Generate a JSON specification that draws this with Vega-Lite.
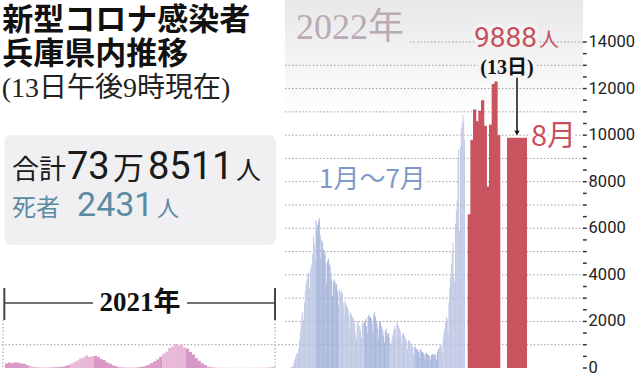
{
"$schema": "https://vega.github.io/schema/vega-lite/v6.json",
"width": 640, "height": 378,
"autosize": {"type": "none"},
"padding": 0,
"background": "#ffffff",
"config": {"view": {"stroke": null}, "text": {"font": "Noto Sans CJK JP"}},
"datasets": {
"one": [{"k": 1}],
"ticks": [{"v":0},{"v":500},{"v":1000},{"v":1500},{"v":2000},{"v":2500},{"v":3000},{"v":3500},{"v":4000},{"v":4500},{"v":5000},{"v":5500},{"v":6000},{"v":6500},{"v":7000},{"v":7500},{"v":8000},{"v":8500},{"v":9000},{"v":9500},{"v":10000},{"v":10500},{"v":11000},{"v":11500},{"v":12000},{"v":12500},{"v":13000},{"v":13500},{"v":14000}],
"labels": [{"v":0},{"v":2000},{"v":4000},{"v":6000},{"v":8000},{"v":10000},{"v":12000},{"v":14000}],
"grid": [{"v":2000},{"v":3000},{"v":4000},{"v":5000},{"v":6000},{"v":7000},{"v":8000},{"v":9000},{"v":10000},{"v":11000},{"v":12000},{"v":13000}],
"y2021": [
{"d":2,"n":190,"ym":"2021-01"},{"d":6,"n":230,"ym":"2021-01"},{"d":10,"n":210,"ym":"2021-01"},{"d":14,"n":245,"ym":"2021-01"},{"d":18,"n":225,"ym":"2021-01"},{"d":22,"n":200,"ym":"2021-01"},{"d":26,"n":180,"ym":"2021-01"},{"d":30,"n":120,"ym":"2021-01"},
{"d":34,"n":85,"ym":"2021-02"},{"d":38,"n":60,"ym":"2021-02"},{"d":42,"n":40,"ym":"2021-02"},{"d":46,"n":30,"ym":"2021-02"},{"d":50,"n":28,"ym":"2021-02"},{"d":54,"n":20,"ym":"2021-02"},{"d":58,"n":22,"ym":"2021-02"},
{"d":62,"n":25,"ym":"2021-03"},{"d":66,"n":30,"ym":"2021-03"},{"d":70,"n":35,"ym":"2021-03"},{"d":74,"n":45,"ym":"2021-03"},{"d":78,"n":60,"ym":"2021-03"},{"d":82,"n":85,"ym":"2021-03"},{"d":86,"n":125,"ym":"2021-03"},
{"d":90,"n":190,"ym":"2021-04"},{"d":94,"n":260,"ym":"2021-04"},{"d":98,"n":320,"ym":"2021-04"},{"d":102,"n":410,"ym":"2021-04"},{"d":106,"n":450,"ym":"2021-04"},{"d":110,"n":540,"ym":"2021-04"},{"d":114,"n":480,"ym":"2021-04"},{"d":118,"n":500,"ym":"2021-04"},
{"d":122,"n":520,"ym":"2021-05"},{"d":126,"n":470,"ym":"2021-05"},{"d":130,"n":380,"ym":"2021-05"},{"d":134,"n":330,"ym":"2021-05"},{"d":138,"n":240,"ym":"2021-05"},{"d":142,"n":180,"ym":"2021-05"},{"d":146,"n":110,"ym":"2021-05"},{"d":150,"n":75,"ym":"2021-05"},
{"d":154,"n":45,"ym":"2021-06"},{"d":158,"n":35,"ym":"2021-06"},{"d":162,"n":25,"ym":"2021-06"},{"d":166,"n":20,"ym":"2021-06"},{"d":170,"n":22,"ym":"2021-06"},{"d":174,"n":30,"ym":"2021-06"},{"d":178,"n":35,"ym":"2021-06"},
{"d":182,"n":45,"ym":"2021-07"},{"d":186,"n":60,"ym":"2021-07"},{"d":190,"n":95,"ym":"2021-07"},{"d":194,"n":140,"ym":"2021-07"},{"d":198,"n":210,"ym":"2021-07"},{"d":202,"n":290,"ym":"2021-07"},{"d":206,"n":370,"ym":"2021-07"},{"d":210,"n":480,"ym":"2021-07"},
{"d":214,"n":620,"ym":"2021-08"},{"d":218,"n":700,"ym":"2021-08"},{"d":222,"n":860,"ym":"2021-08"},{"d":226,"n":930,"ym":"2021-08"},{"d":230,"n":1020,"ym":"2021-08"},{"d":234,"n":980,"ym":"2021-08"},{"d":238,"n":1000,"ym":"2021-08"},{"d":242,"n":880,"ym":"2021-08"},
{"d":246,"n":830,"ym":"2021-09"},{"d":250,"n":690,"ym":"2021-09"},{"d":254,"n":580,"ym":"2021-09"},{"d":258,"n":420,"ym":"2021-09"},{"d":262,"n":310,"ym":"2021-09"},{"d":266,"n":200,"ym":"2021-09"},{"d":270,"n":130,"ym":"2021-09"},
{"d":274,"n":75,"ym":"2021-10"},{"d":278,"n":45,"ym":"2021-10"},{"d":282,"n":28,"ym":"2021-10"},{"d":286,"n":18,"ym":"2021-10"},{"d":290,"n":12,"ym":"2021-10"},{"d":294,"n":10,"ym":"2021-10"},{"d":298,"n":9,"ym":"2021-10"},{"d":302,"n":8,"ym":"2021-10"},
{"d":306,"n":6,"ym":"2021-11"},{"d":310,"n":6,"ym":"2021-11"},{"d":314,"n":5,"ym":"2021-11"},{"d":318,"n":5,"ym":"2021-11"},{"d":322,"n":5,"ym":"2021-11"},{"d":326,"n":6,"ym":"2021-11"},{"d":330,"n":6,"ym":"2021-11"},
{"d":334,"n":8,"ym":"2021-12"},{"d":338,"n":9,"ym":"2021-12"},{"d":342,"n":10,"ym":"2021-12"},{"d":346,"n":13,"ym":"2021-12"},{"d":350,"n":17,"ym":"2021-12"},{"d":354,"n":22,"ym":"2021-12"},{"d":358,"n":32,"ym":"2021-12"},{"d":362,"n":50,"ym":"2021-12"}
],
"y2022": [
{"d":365,"n":30,"ym":"2022-01"},{"d":366,"n":35,"ym":"2022-01"},{"d":367,"n":40,"ym":"2022-01"},{"d":368,"n":90,"ym":"2022-01"},{"d":369,"n":170,"ym":"2022-01"},{"d":370,"n":330,"ym":"2022-01"},{"d":371,"n":450,"ym":"2022-01"},{"d":372,"n":560,"ym":"2022-01"},{"d":373,"n":640,"ym":"2022-01"},{"d":374,"n":600,"ym":"2022-01"},{"d":375,"n":830,"ym":"2022-01"},{"d":376,"n":1200,"ym":"2022-01"},{"d":377,"n":1600,"ym":"2022-01"},{"d":378,"n":2000,"ym":"2022-01"},{"d":379,"n":2300,"ym":"2022-01"},{"d":380,"n":2400,"ym":"2022-01"},{"d":381,"n":2050,"ym":"2022-01"},{"d":382,"n":2800,"ym":"2022-01"},{"d":383,"n":3300,"ym":"2022-01"},{"d":384,"n":3600,"ym":"2022-01"},{"d":385,"n":3800,"ym":"2022-01"},{"d":386,"n":4000,"ym":"2022-01"},{"d":387,"n":4100,"ym":"2022-01"},{"d":388,"n":3400,"ym":"2022-01"},{"d":389,"n":4200,"ym":"2022-01"},{"d":390,"n":4350,"ym":"2022-01"},{"d":391,"n":4500,"ym":"2022-01"},{"d":392,"n":4900,"ym":"2022-01"},{"d":393,"n":5700,"ym":"2022-01"},{"d":394,"n":5300,"ym":"2022-01"},{"d":395,"n":4600,"ym":"2022-01"},
{"d":396,"n":6350,"ym":"2022-02"},{"d":397,"n":5900,"ym":"2022-02"},{"d":398,"n":6150,"ym":"2022-02"},{"d":399,"n":6300,"ym":"2022-02"},{"d":400,"n":6450,"ym":"2022-02"},{"d":401,"n":5700,"ym":"2022-02"},{"d":402,"n":4700,"ym":"2022-02"},{"d":403,"n":5500,"ym":"2022-02"},{"d":404,"n":5400,"ym":"2022-02"},{"d":405,"n":5100,"ym":"2022-02"},{"d":406,"n":4900,"ym":"2022-02"},{"d":407,"n":5000,"ym":"2022-02"},{"d":408,"n":4500,"ym":"2022-02"},{"d":409,"n":3600,"ym":"2022-02"},{"d":410,"n":4600,"ym":"2022-02"},{"d":411,"n":4700,"ym":"2022-02"},{"d":412,"n":4500,"ym":"2022-02"},{"d":413,"n":4400,"ym":"2022-02"},{"d":414,"n":4100,"ym":"2022-02"},{"d":415,"n":3800,"ym":"2022-02"},{"d":416,"n":3100,"ym":"2022-02"},{"d":417,"n":3700,"ym":"2022-02"},{"d":418,"n":3800,"ym":"2022-02"},{"d":419,"n":3700,"ym":"2022-02"},{"d":420,"n":3600,"ym":"2022-02"},{"d":421,"n":3600,"ym":"2022-02"},{"d":422,"n":3300,"ym":"2022-02"},{"d":423,"n":2700,"ym":"2022-02"},
{"d":424,"n":3400,"ym":"2022-03"},{"d":425,"n":3300,"ym":"2022-03"},{"d":426,"n":3200,"ym":"2022-03"},{"d":427,"n":3300,"ym":"2022-03"},{"d":428,"n":3200,"ym":"2022-03"},{"d":429,"n":2800,"ym":"2022-03"},{"d":430,"n":2300,"ym":"2022-03"},{"d":431,"n":2900,"ym":"2022-03"},{"d":432,"n":2800,"ym":"2022-03"},{"d":433,"n":2700,"ym":"2022-03"},{"d":434,"n":2600,"ym":"2022-03"},{"d":435,"n":2500,"ym":"2022-03"},{"d":436,"n":2300,"ym":"2022-03"},{"d":437,"n":1700,"ym":"2022-03"},{"d":438,"n":2400,"ym":"2022-03"},{"d":439,"n":2300,"ym":"2022-03"},{"d":440,"n":2200,"ym":"2022-03"},{"d":441,"n":2100,"ym":"2022-03"},{"d":442,"n":2100,"ym":"2022-03"},{"d":443,"n":1900,"ym":"2022-03"},{"d":444,"n":1500,"ym":"2022-03"},{"d":445,"n":1200,"ym":"2022-03"},{"d":446,"n":2000,"ym":"2022-03"},{"d":447,"n":2000,"ym":"2022-03"},{"d":448,"n":1800,"ym":"2022-03"},{"d":449,"n":1800,"ym":"2022-03"},{"d":450,"n":1600,"ym":"2022-03"},{"d":451,"n":1300,"ym":"2022-03"},{"d":452,"n":1900,"ym":"2022-03"},{"d":453,"n":2000,"ym":"2022-03"},{"d":454,"n":1900,"ym":"2022-03"},
{"d":455,"n":2000,"ym":"2022-04"},{"d":456,"n":2100,"ym":"2022-04"},{"d":457,"n":1800,"ym":"2022-04"},{"d":458,"n":1500,"ym":"2022-04"},{"d":459,"n":2200,"ym":"2022-04"},{"d":460,"n":2300,"ym":"2022-04"},{"d":461,"n":2200,"ym":"2022-04"},{"d":462,"n":2200,"ym":"2022-04"},{"d":463,"n":2100,"ym":"2022-04"},{"d":464,"n":1900,"ym":"2022-04"},{"d":465,"n":1500,"ym":"2022-04"},{"d":466,"n":2300,"ym":"2022-04"},{"d":467,"n":2400,"ym":"2022-04"},{"d":468,"n":2200,"ym":"2022-04"},{"d":469,"n":2000,"ym":"2022-04"},{"d":470,"n":1900,"ym":"2022-04"},{"d":471,"n":1700,"ym":"2022-04"},{"d":472,"n":1300,"ym":"2022-04"},{"d":473,"n":2000,"ym":"2022-04"},{"d":474,"n":2000,"ym":"2022-04"},{"d":475,"n":1800,"ym":"2022-04"},{"d":476,"n":1700,"ym":"2022-04"},{"d":477,"n":1600,"ym":"2022-04"},{"d":478,"n":1400,"ym":"2022-04"},{"d":479,"n":1100,"ym":"2022-04"},{"d":480,"n":1600,"ym":"2022-04"},{"d":481,"n":1700,"ym":"2022-04"},{"d":482,"n":1500,"ym":"2022-04"},{"d":483,"n":1400,"ym":"2022-04"},{"d":484,"n":1500,"ym":"2022-04"},
{"d":485,"n":1300,"ym":"2022-05"},{"d":486,"n":1000,"ym":"2022-05"},{"d":487,"n":1100,"ym":"2022-05"},{"d":488,"n":1200,"ym":"2022-05"},{"d":489,"n":1400,"ym":"2022-05"},{"d":490,"n":1600,"ym":"2022-05"},{"d":491,"n":1800,"ym":"2022-05"},{"d":492,"n":1700,"ym":"2022-05"},{"d":493,"n":1300,"ym":"2022-05"},{"d":494,"n":2000,"ym":"2022-05"},{"d":495,"n":1900,"ym":"2022-05"},{"d":496,"n":1800,"ym":"2022-05"},{"d":497,"n":1700,"ym":"2022-05"},{"d":498,"n":1600,"ym":"2022-05"},{"d":499,"n":1400,"ym":"2022-05"},{"d":500,"n":1000,"ym":"2022-05"},{"d":501,"n":1500,"ym":"2022-05"},{"d":502,"n":1500,"ym":"2022-05"},{"d":503,"n":1400,"ym":"2022-05"},{"d":504,"n":1300,"ym":"2022-05"},{"d":505,"n":1250,"ym":"2022-05"},{"d":506,"n":1150,"ym":"2022-05"},{"d":507,"n":800,"ym":"2022-05"},{"d":508,"n":1200,"ym":"2022-05"},{"d":509,"n":1200,"ym":"2022-05"},{"d":510,"n":1100,"ym":"2022-05"},{"d":511,"n":1050,"ym":"2022-05"},{"d":512,"n":1000,"ym":"2022-05"},{"d":513,"n":900,"ym":"2022-05"},{"d":514,"n":600,"ym":"2022-05"},{"d":515,"n":950,"ym":"2022-05"},
{"d":516,"n":900,"ym":"2022-06"},{"d":517,"n":850,"ym":"2022-06"},{"d":518,"n":800,"ym":"2022-06"},{"d":519,"n":780,"ym":"2022-06"},{"d":520,"n":700,"ym":"2022-06"},{"d":521,"n":450,"ym":"2022-06"},{"d":522,"n":800,"ym":"2022-06"},{"d":523,"n":780,"ym":"2022-06"},{"d":524,"n":720,"ym":"2022-06"},{"d":525,"n":680,"ym":"2022-06"},{"d":526,"n":650,"ym":"2022-06"},{"d":527,"n":580,"ym":"2022-06"},{"d":528,"n":380,"ym":"2022-06"},{"d":529,"n":620,"ym":"2022-06"},{"d":530,"n":650,"ym":"2022-06"},{"d":531,"n":600,"ym":"2022-06"},{"d":532,"n":560,"ym":"2022-06"},{"d":533,"n":540,"ym":"2022-06"},{"d":534,"n":500,"ym":"2022-06"},{"d":535,"n":320,"ym":"2022-06"},{"d":536,"n":560,"ym":"2022-06"},{"d":537,"n":600,"ym":"2022-06"},{"d":538,"n":560,"ym":"2022-06"},{"d":539,"n":580,"ym":"2022-06"},{"d":540,"n":600,"ym":"2022-06"},{"d":541,"n":560,"ym":"2022-06"},{"d":542,"n":370,"ym":"2022-06"},{"d":543,"n":680,"ym":"2022-06"},{"d":544,"n":800,"ym":"2022-06"},{"d":545,"n":850,"ym":"2022-06"},
{"d":546,"n":900,"ym":"2022-07"},{"d":547,"n":1000,"ym":"2022-07"},{"d":548,"n":950,"ym":"2022-07"},{"d":549,"n":650,"ym":"2022-07"},{"d":550,"n":1300,"ym":"2022-07"},{"d":551,"n":1500,"ym":"2022-07"},{"d":552,"n":1700,"ym":"2022-07"},{"d":553,"n":2000,"ym":"2022-07"},{"d":554,"n":2200,"ym":"2022-07"},{"d":555,"n":2100,"ym":"2022-07"},{"d":556,"n":1500,"ym":"2022-07"},{"d":557,"n":2800,"ym":"2022-07"},{"d":558,"n":3400,"ym":"2022-07"},{"d":559,"n":3900,"ym":"2022-07"},{"d":560,"n":4500,"ym":"2022-07"},{"d":561,"n":5000,"ym":"2022-07"},{"d":562,"n":5400,"ym":"2022-07"},{"d":563,"n":4000,"ym":"2022-07"},{"d":564,"n":3700,"ym":"2022-07"},{"d":565,"n":6200,"ym":"2022-07"},{"d":566,"n":6800,"ym":"2022-07"},{"d":567,"n":7200,"ym":"2022-07"},{"d":568,"n":9000,"ym":"2022-07"},{"d":569,"n":9400,"ym":"2022-07"},{"d":570,"n":5900,"ym":"2022-07"},{"d":571,"n":9500,"ym":"2022-07"},{"d":572,"n":10300,"ym":"2022-07"},{"d":573,"n":10500,"ym":"2022-07"},{"d":574,"n":10900,"ym":"2022-07"},{"d":575,"n":10600,"ym":"2022-07"},{"d":576,"n":9800,"ym":"2022-07"}
],
"aug": [
{"d":577,"n":6600,"ym":"2022-08"},{"d":578,"n":9800,"ym":"2022-08"},{"d":579,"n":11100,"ym":"2022-08"},{"d":580,"n":10600,"ym":"2022-08"},{"d":581,"n":11050,"ym":"2022-08"},{"d":582,"n":11500,"ym":"2022-08"},{"d":583,"n":10400,"ym":"2022-08"},{"d":584,"n":7800,"ym":"2022-08"},{"d":585,"n":10450,"ym":"2022-08"},{"d":586,"n":12200,"ym":"2022-08"},{"d":587,"n":12300,"ym":"2022-08"},{"d":588,"n":10000,"ym":"2022-08"}
],
"aug13": [{"d":589,"n":9888,"ym":"2022-08"}]
},
"layer": [
{"data": {"name": "one"},
 "mark": {"type": "rect", "fill": {"gradient": "linear", "x1": 0, "y1": 0, "x2": 0, "y2": 1, "stops": [{"offset": 0, "color": "#e8e7e9"}, {"offset": 1, "color": "#ffffff"}]}},
 "encoding": {
  "x": {"datum": 364.33, "type": "quantitative", "axis": null, "scale": {"type": "linear", "domain": [-10, 0, 364, 364.5, 576.5, 576.51, 588.5, 588.51, 589.49, 592, 600], "range": [-2.42, 5, 275, 290, 465, 468, 500, 507, 527, 583, 640], "nice": false, "zero": false}},
  "x2": {"datum": 592},
  "y": {"datum": 15804, "type": "quantitative", "axis": null, "scale": {"domain": [0, 15804], "range": [368, 0], "nice": false, "zero": true}},
  "y2": {"datum": 10865}}},
{"data": {"name": "one"},
 "mark": {"type": "rect", "fill": "#f0f0f2", "cornerRadius": 7},
 "encoding": {"x": {"datum": -1.35, "axis": null}, "x2": {"datum": 364.03}, "y": {"datum": 10006, "axis": null}, "y2": {"datum": 5282}}},
{"data": {"values": [{"v": 1000}]},
 "mark": {"type": "rule", "color": "#9c9c9c", "strokeWidth": 1, "strokeDash": [1.5, 2]},
 "encoding": {"x": {"datum": -6.74, "axis": null}, "x2": {"datum": 592}, "y": {"field": "v", "type": "quantitative", "axis": null}}},
{"data": {"name": "grid"},
 "mark": {"type": "rule", "color": "#9c9c9c", "strokeWidth": 1, "strokeDash": [1.5, 2]},
 "encoding": {"x": {"datum": 364.33, "axis": null}, "x2": {"datum": 592}, "y": {"field": "v", "type": "quantitative", "axis": null}}},
{"data": {"values": [{"v": 14000}]},
 "mark": {"type": "rule", "color": "#9c9c9c", "strokeWidth": 1, "strokeDash": [1.5, 2]},
 "encoding": {"x": {"datum": 509.9, "axis": null}, "x2": {"datum": 592}, "y": {"field": "v", "type": "quantitative", "axis": null}}},
{"data": {"name": "ticks"},
 "mark": {"type": "rule", "color": "#333333", "strokeWidth": 1.5},
 "encoding": {"x": {"datum": 592, "axis": null}, "x2": {"datum": 592.84}, "y": {"field": "v", "type": "quantitative", "axis": null}}},
{"data": {"name": "labels"},
 "mark": {"type": "text", "align": "left", "baseline": "middle", "font": "Roboto", "fontSize": 16.5, "color": "#222222"},
 "encoding": {"x": {"datum": 593.26, "axis": null}, "y": {"field": "v", "type": "quantitative", "axis": null}, "text": {"field": "v", "type": "quantitative", "format": "d"}}},
{"data": {"name": "one"},
 "mark": {"type": "rule", "color": "#b0b0b0", "strokeWidth": 1.2, "strokeDash": [1.5, 2]},
 "encoding": {"x": {"datum": -4.04, "axis": null}, "y": {"datum": 2061, "axis": null}, "y2": {"datum": 0}}},
{"data": {"name": "one"},
 "mark": {"type": "rule", "color": "#b0b0b0", "strokeWidth": 1.2, "strokeDash": [1.5, 2]},
 "encoding": {"x": {"datum": 364, "axis": null}, "y": {"datum": 2061, "axis": null}, "y2": {"datum": 0}}},
{"data": {"name": "y2021"},
 "mark": {"type": "bar", "orient": "vertical", "width": 3.1},
 "encoding": {
  "x": {"field": "d", "type": "quantitative", "axis": null},
  "y": {"field": "n", "type": "quantitative", "stack": null, "axis": null},
  "color": {"field": "ym", "type": "nominal", "legend": null, "scale": {"domain": ["2021-01","2021-02","2021-03","2021-04","2021-05","2021-06","2021-07","2021-08","2021-09","2021-10","2021-11","2021-12","2022-01","2022-02","2022-03","2022-04","2022-05","2022-06","2022-07","2022-08"], "range": ["#d898c5","#e8b8d7","#d898c5","#e8b8d7","#d898c5","#e8b8d7","#d898c5","#e8b8d7","#d898c5","#e8b8d7","#d898c5","#e8b8d7","#bac4e2","#a0b0d8","#bac4e2","#a0b0d8","#bac4e2","#a0b0d8","#bac4e2","#c9535e"]}}}},
{"data": {"name": "y2022"},
 "mark": {"type": "bar", "orient": "vertical", "width": 0.86},
 "encoding": {
  "x": {"field": "d", "type": "quantitative", "axis": null},
  "y": {"field": "n", "type": "quantitative", "stack": null, "axis": null},
  "color": {"field": "ym", "type": "nominal", "legend": null}}},
{"data": {"name": "aug"},
 "mark": {"type": "bar", "orient": "vertical", "width": 3.3},
 "encoding": {
  "x": {"field": "d", "type": "quantitative", "axis": null},
  "y": {"field": "n", "type": "quantitative", "stack": null, "axis": null},
  "color": {"field": "ym", "type": "nominal", "legend": null}}},
{"data": {"name": "aug13"},
 "mark": {"type": "bar", "orient": "vertical", "width": 20},
 "encoding": {
  "x": {"field": "d", "type": "quantitative", "axis": null},
  "y": {"field": "n", "type": "quantitative", "stack": null, "axis": null},
  "color": {"field": "ym", "type": "nominal", "legend": null}}},
{"data": {"name": "one"}, "mark": {"type": "rule", "color": "#444444", "strokeWidth": 1.5},
 "encoding": {"x": {"datum": 0, "axis": null}, "x2": {"datum": 118.6}, "y": {"datum": 2791, "axis": null}}},
{"data": {"name": "one"}, "mark": {"type": "rule", "color": "#444444", "strokeWidth": 1.5},
 "encoding": {"x": {"datum": 245.4, "axis": null}, "x2": {"datum": 364}, "y": {"datum": 2791, "axis": null}}},
{"data": {"name": "one"}, "mark": {"type": "rule", "color": "#444444", "strokeWidth": 2},
 "encoding": {"x": {"datum": -1.35, "axis": null}, "y": {"datum": 3436, "axis": null}, "y2": {"datum": 2061}}},
{"data": {"name": "one"}, "mark": {"type": "rule", "color": "#444444", "strokeWidth": 2},
 "encoding": {"x": {"datum": 364, "axis": null}, "y": {"datum": 3436, "axis": null}, "y2": {"datum": 2061}}},
{"data": {"name": "one"}, "mark": {"type": "rule", "color": "#111111", "strokeWidth": 1.5},
 "encoding": {"x": {"datum": 589, "axis": null}, "y": {"datum": 12497, "axis": null}, "y2": {"datum": 10135}}},
{"data": {"name": "one"}, "mark": {"type": "point", "shape": "triangle-down", "filled": true, "size": 28, "color": "#111111", "opacity": 1},
 "encoding": {"x": {"datum": 589, "axis": null}, "y": {"datum": 10092, "axis": null}}},
{"data": {"name": "one"}, "mark": {"type": "text", "text": "新型コロナ感染者", "align": "left", "baseline": "middle", "fontSize": 31, "fontWeight": "bold", "color": "#111111"},
 "encoding": {"x": {"datum": -5.39, "axis": null}, "y": {"datum": 14902, "axis": null}}},
{"data": {"name": "one"}, "mark": {"type": "text", "text": "兵庫県内推移", "align": "left", "baseline": "middle", "fontSize": 31, "fontWeight": "bold", "color": "#111111"},
 "encoding": {"x": {"datum": -5.39, "axis": null}, "y": {"datum": 13442, "axis": null}}},
{"data": {"name": "one"}, "mark": {"type": "text", "text": "(13日午後9時現在)", "align": "left", "baseline": "middle", "fontSize": 28, "font": "Liberation Serif, Noto Sans CJK JP", "color": "#222222"},
 "encoding": {"x": {"datum": -6.74, "axis": null}, "y": {"datum": 11982, "axis": null}}},
{"data": {"name": "one"}, "mark": {"type": "text", "text": "合計", "align": "left", "baseline": "alphabetic", "fontSize": 27, "color": "#1a1a1a"},
 "encoding": {"x": {"datum": 9.4, "axis": null}, "y": {"datum": 8117, "axis": null}}},
{"data": {"name": "one"}, "mark": {"type": "text", "text": "73", "align": "left", "baseline": "alphabetic", "fontSize": 38, "font": "Roboto", "color": "#1a1a1a"},
 "encoding": {"x": {"datum": 83.6, "axis": null}, "y": {"datum": 8117, "axis": null}}},
{"data": {"name": "one"}, "mark": {"type": "text", "text": "万", "align": "left", "baseline": "alphabetic", "fontSize": 31, "color": "#1a1a1a"},
 "encoding": {"x": {"datum": 145.6, "axis": null}, "y": {"datum": 8117, "axis": null}}},
{"data": {"name": "one"}, "mark": {"type": "text", "text": "8511", "align": "left", "baseline": "alphabetic", "fontSize": 38, "font": "Roboto", "color": "#1a1a1a"},
 "encoding": {"x": {"datum": 192.8, "axis": null}, "y": {"datum": 8117, "axis": null}}},
{"data": {"name": "one"}, "mark": {"type": "text", "text": "人", "align": "left", "baseline": "alphabetic", "fontSize": 25, "color": "#1a1a1a"},
 "encoding": {"x": {"datum": 311.4, "axis": null}, "y": {"datum": 8117, "axis": null}}},
{"data": {"name": "one"}, "mark": {"type": "text", "text": "死者", "align": "left", "baseline": "alphabetic", "fontSize": 24, "color": "#5b8aa3"},
 "encoding": {"x": {"datum": 9.4, "axis": null}, "y": {"datum": 6528, "axis": null}}},
{"data": {"name": "one"}, "mark": {"type": "text", "text": "2431", "align": "left", "baseline": "alphabetic", "fontSize": 34, "font": "Roboto", "color": "#5b8aa3"},
 "encoding": {"x": {"datum": 97.1, "axis": null}, "y": {"datum": 6528, "axis": null}}},
{"data": {"name": "one"}, "mark": {"type": "text", "text": "人", "align": "left", "baseline": "alphabetic", "fontSize": 22, "color": "#5b8aa3"},
 "encoding": {"x": {"datum": 204.9, "axis": null}, "y": {"datum": 6528, "axis": null}}},
{"data": {"name": "one"}, "mark": {"type": "text", "text": "2021年", "align": "center", "baseline": "middle", "fontSize": 27, "fontWeight": "bold", "font": "Liberation Serif, Noto Sans CJK JP", "color": "#111111"},
 "encoding": {"x": {"datum": 182, "axis": null}, "y": {"datum": 2791, "axis": null}}},
{"data": {"name": "one"}, "mark": {"type": "text", "text": "2022年", "align": "left", "baseline": "middle", "fontSize": 36, "font": "Liberation Serif, Noto Sans CJK JP", "color": "#b9aab3"},
 "encoding": {"x": {"datum": 371.77, "axis": null}, "y": {"datum": 14602, "axis": null}}},
{"data": {"name": "one"}, "mark": {"type": "text", "text": "9888", "align": "left", "baseline": "alphabetic", "fontSize": 28, "font": "Roboto", "color": "#f3f3f4", "stroke": "#f3f3f4", "strokeWidth": 7, "strokeJoin": "round"},
 "encoding": {"x": {"datum": 578.76, "axis": null}, "y": {"datum": 13786, "axis": null}}},
{"data": {"name": "one"}, "mark": {"type": "text", "text": "9888", "align": "left", "baseline": "alphabetic", "fontSize": 28, "font": "Roboto", "color": "#c8505b"},
 "encoding": {"x": {"datum": 578.76, "axis": null}, "y": {"datum": 13786, "axis": null}}},
{"data": {"name": "one"}, "mark": {"type": "text", "text": "人", "align": "left", "baseline": "alphabetic", "fontSize": 20, "color": "#c8505b"},
 "encoding": {"x": {"datum": 590.03, "axis": null}, "y": {"datum": 13786, "axis": null}}},
{"data": {"name": "one"}, "mark": {"type": "text", "text": "(13日)", "align": "center", "baseline": "middle", "fontSize": 20, "fontWeight": "bold", "font": "Liberation Serif, Noto Sans CJK JP", "color": "#f5f5f6", "stroke": "#f5f5f6", "strokeWidth": 7, "strokeJoin": "round"},
 "encoding": {"x": {"datum": 588.51, "axis": null}, "y": {"datum": 12884, "axis": null}}},
{"data": {"name": "one"}, "mark": {"type": "text", "text": "(13日)", "align": "center", "baseline": "middle", "fontSize": 20, "fontWeight": "bold", "font": "Liberation Serif, Noto Sans CJK JP", "color": "#111111"},
 "encoding": {"x": {"datum": 588.51, "axis": null}, "y": {"datum": 12884, "axis": null}}},
{"data": {"name": "one"}, "mark": {"type": "text", "text": "8月", "align": "left", "baseline": "middle", "fontSize": 29, "color": "#ffffff", "stroke": "#ffffff", "strokeWidth": 7, "strokeJoin": "round"},
 "encoding": {"x": {"datum": 589.67, "axis": null}, "y": {"datum": 9921, "axis": null}}},
{"data": {"name": "one"}, "mark": {"type": "text", "text": "8月", "align": "left", "baseline": "middle", "fontSize": 29, "color": "#c8505b"},
 "encoding": {"x": {"datum": 589.67, "axis": null}, "y": {"datum": 9921, "axis": null}}},
{"data": {"name": "one"}, "mark": {"type": "text", "text": "1月〜7月", "align": "left", "baseline": "middle", "fontSize": 26, "color": "#ffffff", "stroke": "#ffffff", "strokeWidth": 9, "strokeJoin": "round"},
 "encoding": {"x": {"datum": 399.63, "axis": null}, "y": {"datum": 8074, "axis": null}}},
{"data": {"name": "one"}, "mark": {"type": "text", "text": "1月〜7月", "align": "left", "baseline": "middle", "fontSize": 26, "color": "#7f99c6"},
 "encoding": {"x": {"datum": 399.63, "axis": null}, "y": {"datum": 8074, "axis": null}}}
]
}
